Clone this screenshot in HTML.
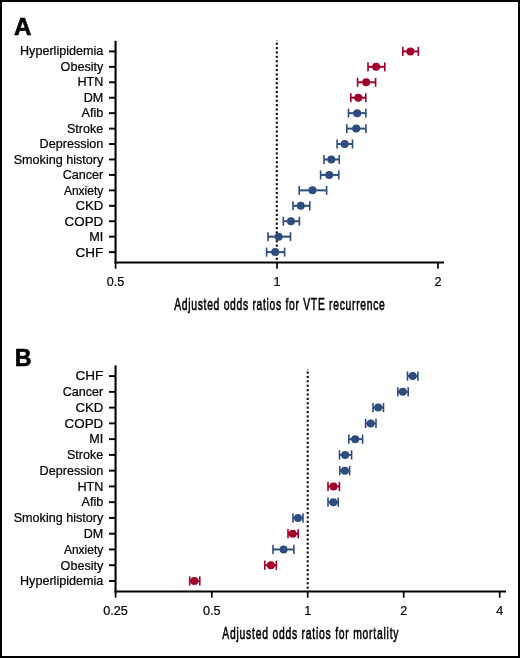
<!DOCTYPE html>
<html><head><meta charset="utf-8"><style>
html,body{margin:0;padding:0;background:#fff;}
body{width:520px;height:658px;overflow:hidden;position:relative;}
.frame{position:absolute;left:0;top:0;width:516px;height:654px;border:2px solid #000;}
svg{position:absolute;left:0;top:0;will-change:transform;}
.lbl{font-family:"Liberation Sans",sans-serif;font-size:12.6px;fill:#000;stroke:#000;stroke-width:0.22px;}
.ttl{font-family:"Liberation Sans",sans-serif;font-size:16.7px;fill:#000;stroke:#000;stroke-width:0.6px;}
.pl{font-family:"Liberation Sans",sans-serif;font-weight:bold;font-size:23.2px;fill:#000;stroke:#000;stroke-width:0.6px;}
</style></head><body>
<div class="frame"></div>
<svg width="520" height="658" viewBox="0 0 520 658">
<text x="14.0" y="34.7" class="pl" transform="translate(14 0) scale(1.04 1) translate(-14 0)">A</text>
<text x="14.8" y="366.1" class="pl">B</text>
<rect x="114.5" y="40.8" width="2.1" height="222.70" fill="#000"/>
<rect x="114.5" y="261.50" width="329.50" height="2" fill="#000"/>
<rect x="114.75" y="262.50" width="1.7" height="6.3" rx="0.6" fill="#000"/>
<rect x="276.15" y="262.50" width="1.7" height="6.3" rx="0.6" fill="#000"/>
<rect x="437.15" y="262.50" width="1.7" height="6.3" rx="0.6" fill="#000"/>
<rect x="275.80" y="40.30" width="2" height="1" fill="#000" opacity="0.45"/>
<rect x="275.80" y="42.65" width="2" height="2.1" fill="#000"/>
<rect x="275.80" y="47.04" width="2" height="2.1" fill="#000"/>
<rect x="275.80" y="51.43" width="2" height="2.1" fill="#000"/>
<rect x="275.80" y="55.82" width="2" height="2.1" fill="#000"/>
<rect x="275.80" y="60.21" width="2" height="2.1" fill="#000"/>
<rect x="275.80" y="64.60" width="2" height="2.1" fill="#000"/>
<rect x="275.80" y="68.99" width="2" height="2.1" fill="#000"/>
<rect x="275.80" y="73.38" width="2" height="2.1" fill="#000"/>
<rect x="275.80" y="77.77" width="2" height="2.1" fill="#000"/>
<rect x="275.80" y="82.16" width="2" height="2.1" fill="#000"/>
<rect x="275.80" y="86.55" width="2" height="2.1" fill="#000"/>
<rect x="275.80" y="90.94" width="2" height="2.1" fill="#000"/>
<rect x="275.80" y="95.33" width="2" height="2.1" fill="#000"/>
<rect x="275.80" y="99.72" width="2" height="2.1" fill="#000"/>
<rect x="275.80" y="104.11" width="2" height="2.1" fill="#000"/>
<rect x="275.80" y="108.50" width="2" height="2.1" fill="#000"/>
<rect x="275.80" y="112.89" width="2" height="2.1" fill="#000"/>
<rect x="275.80" y="117.28" width="2" height="2.1" fill="#000"/>
<rect x="275.80" y="121.67" width="2" height="2.1" fill="#000"/>
<rect x="275.80" y="126.06" width="2" height="2.1" fill="#000"/>
<rect x="275.80" y="130.45" width="2" height="2.1" fill="#000"/>
<rect x="275.80" y="134.84" width="2" height="2.1" fill="#000"/>
<rect x="275.80" y="139.23" width="2" height="2.1" fill="#000"/>
<rect x="275.80" y="143.62" width="2" height="2.1" fill="#000"/>
<rect x="275.80" y="148.01" width="2" height="2.1" fill="#000"/>
<rect x="275.80" y="152.40" width="2" height="2.1" fill="#000"/>
<rect x="275.80" y="156.79" width="2" height="2.1" fill="#000"/>
<rect x="275.80" y="161.18" width="2" height="2.1" fill="#000"/>
<rect x="275.80" y="165.57" width="2" height="2.1" fill="#000"/>
<rect x="275.80" y="169.96" width="2" height="2.1" fill="#000"/>
<rect x="275.80" y="174.35" width="2" height="2.1" fill="#000"/>
<rect x="275.80" y="178.74" width="2" height="2.1" fill="#000"/>
<rect x="275.80" y="183.13" width="2" height="2.1" fill="#000"/>
<rect x="275.80" y="187.52" width="2" height="2.1" fill="#000"/>
<rect x="275.80" y="191.91" width="2" height="2.1" fill="#000"/>
<rect x="275.80" y="196.30" width="2" height="2.1" fill="#000"/>
<rect x="275.80" y="200.69" width="2" height="2.1" fill="#000"/>
<rect x="275.80" y="205.08" width="2" height="2.1" fill="#000"/>
<rect x="275.80" y="209.47" width="2" height="2.1" fill="#000"/>
<rect x="275.80" y="213.86" width="2" height="2.1" fill="#000"/>
<rect x="275.80" y="218.25" width="2" height="2.1" fill="#000"/>
<rect x="275.80" y="222.64" width="2" height="2.1" fill="#000"/>
<rect x="275.80" y="227.03" width="2" height="2.1" fill="#000"/>
<rect x="275.80" y="231.42" width="2" height="2.1" fill="#000"/>
<rect x="275.80" y="235.81" width="2" height="2.1" fill="#000"/>
<rect x="275.80" y="240.20" width="2" height="2.1" fill="#000"/>
<rect x="275.80" y="244.59" width="2" height="2.1" fill="#000"/>
<rect x="275.80" y="248.98" width="2" height="2.1" fill="#000"/>
<rect x="275.80" y="253.37" width="2" height="2.1" fill="#000"/>
<rect x="275.80" y="257.76" width="2" height="2.1" fill="#000"/>
<rect x="109" y="50.45" width="6" height="1.9" fill="#000"/>
<text x="103.3" y="55.15" text-anchor="end" class="lbl">Hyperlipidemia</text>
<rect x="109" y="65.89" width="6" height="1.9" fill="#000"/>
<text x="103.3" y="70.67" text-anchor="end" class="lbl">Obesity</text>
<rect x="109" y="81.33" width="6" height="1.9" fill="#000"/>
<text x="103.3" y="86.19" text-anchor="end" class="lbl">HTN</text>
<rect x="109" y="96.77" width="6" height="1.9" fill="#000"/>
<text x="103.3" y="101.71" text-anchor="end" class="lbl">DM</text>
<rect x="109" y="112.21" width="6" height="1.9" fill="#000"/>
<text x="103.3" y="117.23" text-anchor="end" class="lbl">Afib</text>
<rect x="109" y="127.65" width="6" height="1.9" fill="#000"/>
<text x="103.3" y="132.75" text-anchor="end" class="lbl">Stroke</text>
<rect x="109" y="143.09" width="6" height="1.9" fill="#000"/>
<text x="103.3" y="148.27" text-anchor="end" class="lbl">Depression</text>
<rect x="109" y="158.53" width="6" height="1.9" fill="#000"/>
<text x="103.3" y="163.79" text-anchor="end" class="lbl">Smoking history</text>
<rect x="109" y="173.97" width="6" height="1.9" fill="#000"/>
<text x="103.3" y="179.31" text-anchor="end" class="lbl">Cancer</text>
<rect x="109" y="189.41" width="6" height="1.9" fill="#000"/>
<text x="103.3" y="194.83" text-anchor="end" class="lbl" transform="translate(103.3 0) scale(0.955 1) translate(-103.3 0)">Anxiety</text>
<rect x="109" y="204.85" width="6" height="1.9" fill="#000"/>
<text x="103.3" y="210.35" text-anchor="end" class="lbl" transform="translate(103.3 0) scale(1.05 1) translate(-103.3 0)">CKD</text>
<rect x="109" y="220.29" width="6" height="1.9" fill="#000"/>
<text x="103.3" y="225.87" text-anchor="end" class="lbl" transform="translate(103.3 0) scale(1.063 1) translate(-103.3 0)">COPD</text>
<rect x="109" y="235.73" width="6" height="1.9" fill="#000"/>
<text x="103.3" y="241.39" text-anchor="end" class="lbl">MI</text>
<rect x="109" y="251.17" width="6" height="1.9" fill="#000"/>
<text x="103.3" y="256.91" text-anchor="end" class="lbl" transform="translate(103.3 0) scale(1.075 1) translate(-103.3 0)">CHF</text>
<g fill="#A1002B"><rect x="402.80" y="50.40" width="15.50" height="2"/><rect x="402.00" y="46.90" width="1.6" height="9.00"/><rect x="417.50" y="46.90" width="1.6" height="9.00"/><circle cx="410.4" cy="51.40" r="4.0"/></g>
<g fill="#A1002B"><rect x="368.00" y="65.84" width="16.80" height="2"/><rect x="367.20" y="62.34" width="1.6" height="9.00"/><rect x="384.00" y="62.34" width="1.6" height="9.00"/><circle cx="376.1" cy="66.84" r="4.0"/></g>
<g fill="#A1002B"><rect x="357.60" y="81.28" width="18.00" height="2"/><rect x="356.80" y="77.78" width="1.6" height="9.00"/><rect x="374.80" y="77.78" width="1.6" height="9.00"/><circle cx="366.2" cy="82.28" r="4.0"/></g>
<g fill="#A1002B"><rect x="350.80" y="96.72" width="15.00" height="2"/><rect x="350.00" y="93.22" width="1.6" height="9.00"/><rect x="365.00" y="93.22" width="1.6" height="9.00"/><circle cx="358.3" cy="97.72" r="4.0"/></g>
<g fill="#2E4C7D"><rect x="348.50" y="112.16" width="17.40" height="2"/><rect x="347.70" y="108.66" width="1.6" height="9.00"/><rect x="365.10" y="108.66" width="1.6" height="9.00"/><circle cx="357.2" cy="113.16" r="4.0"/></g>
<g fill="#2E4C7D"><rect x="346.80" y="127.60" width="19.10" height="2"/><rect x="346.00" y="124.10" width="1.6" height="9.00"/><rect x="365.10" y="124.10" width="1.6" height="9.00"/><circle cx="356.2" cy="128.60" r="4.0"/></g>
<g fill="#2E4C7D"><rect x="337.10" y="143.04" width="15.40" height="2"/><rect x="336.30" y="139.54" width="1.6" height="9.00"/><rect x="351.70" y="139.54" width="1.6" height="9.00"/><circle cx="344.7" cy="144.04" r="4.0"/></g>
<g fill="#2E4C7D"><rect x="324.00" y="158.48" width="15.20" height="2"/><rect x="323.20" y="154.98" width="1.6" height="9.00"/><rect x="338.40" y="154.98" width="1.6" height="9.00"/><circle cx="331.3" cy="159.48" r="4.0"/></g>
<g fill="#2E4C7D"><rect x="320.60" y="173.92" width="18.20" height="2"/><rect x="319.80" y="170.42" width="1.6" height="9.00"/><rect x="338.00" y="170.42" width="1.6" height="9.00"/><circle cx="329.2" cy="174.92" r="4.0"/></g>
<g fill="#2E4C7D"><rect x="299.20" y="189.36" width="27.40" height="2"/><rect x="298.40" y="185.86" width="1.6" height="9.00"/><rect x="325.80" y="185.86" width="1.6" height="9.00"/><circle cx="312.5" cy="190.36" r="4.0"/></g>
<g fill="#2E4C7D"><rect x="293.00" y="204.80" width="16.80" height="2"/><rect x="292.20" y="201.30" width="1.6" height="9.00"/><rect x="309.00" y="201.30" width="1.6" height="9.00"/><circle cx="300.8" cy="205.80" r="4.0"/></g>
<g fill="#2E4C7D"><rect x="283.30" y="220.24" width="16.10" height="2"/><rect x="282.50" y="216.74" width="1.6" height="9.00"/><rect x="298.60" y="216.74" width="1.6" height="9.00"/><circle cx="291.0" cy="221.24" r="4.0"/></g>
<g fill="#2E4C7D"><rect x="268.00" y="235.68" width="22.50" height="2"/><rect x="267.20" y="232.18" width="1.6" height="9.00"/><rect x="289.70" y="232.18" width="1.6" height="9.00"/><circle cx="278.6" cy="236.68" r="4.0"/></g>
<g fill="#2E4C7D"><rect x="266.60" y="251.12" width="18.00" height="2"/><rect x="265.80" y="247.62" width="1.6" height="9.00"/><rect x="283.80" y="247.62" width="1.6" height="9.00"/><circle cx="275.2" cy="252.12" r="4.0"/></g>
<text x="115.60" y="286.10" text-anchor="middle" class="lbl">0.5</text>
<text x="277.00" y="286.10" text-anchor="middle" class="lbl">1</text>
<text x="438.00" y="286.10" text-anchor="middle" class="lbl">2</text>
<text transform="scale(0.62,1)" x="280.97" y="310.3" textLength="339.7" lengthAdjust="spacing" class="ttl">Adjusted odds ratios for VTE recurrence</text>
<rect x="114.5" y="365.4" width="2.1" height="227.10" fill="#000"/>
<rect x="114.5" y="590.50" width="391.50" height="2" fill="#000"/>
<rect x="114.75" y="591.50" width="1.7" height="6.3" rx="0.6" fill="#000"/>
<rect x="210.95" y="591.50" width="1.7" height="6.3" rx="0.6" fill="#000"/>
<rect x="306.85" y="591.50" width="1.7" height="6.3" rx="0.6" fill="#000"/>
<rect x="402.85" y="591.50" width="1.7" height="6.3" rx="0.6" fill="#000"/>
<rect x="498.85" y="591.50" width="1.7" height="6.3" rx="0.6" fill="#000"/>
<rect x="306.70" y="369.15" width="2" height="1" fill="#000" opacity="0.45"/>
<rect x="306.70" y="371.50" width="2" height="2.1" fill="#000"/>
<rect x="306.70" y="375.89" width="2" height="2.1" fill="#000"/>
<rect x="306.70" y="380.28" width="2" height="2.1" fill="#000"/>
<rect x="306.70" y="384.67" width="2" height="2.1" fill="#000"/>
<rect x="306.70" y="389.06" width="2" height="2.1" fill="#000"/>
<rect x="306.70" y="393.45" width="2" height="2.1" fill="#000"/>
<rect x="306.70" y="397.84" width="2" height="2.1" fill="#000"/>
<rect x="306.70" y="402.23" width="2" height="2.1" fill="#000"/>
<rect x="306.70" y="406.62" width="2" height="2.1" fill="#000"/>
<rect x="306.70" y="411.01" width="2" height="2.1" fill="#000"/>
<rect x="306.70" y="415.40" width="2" height="2.1" fill="#000"/>
<rect x="306.70" y="419.79" width="2" height="2.1" fill="#000"/>
<rect x="306.70" y="424.18" width="2" height="2.1" fill="#000"/>
<rect x="306.70" y="428.57" width="2" height="2.1" fill="#000"/>
<rect x="306.70" y="432.96" width="2" height="2.1" fill="#000"/>
<rect x="306.70" y="437.35" width="2" height="2.1" fill="#000"/>
<rect x="306.70" y="441.74" width="2" height="2.1" fill="#000"/>
<rect x="306.70" y="446.13" width="2" height="2.1" fill="#000"/>
<rect x="306.70" y="450.52" width="2" height="2.1" fill="#000"/>
<rect x="306.70" y="454.91" width="2" height="2.1" fill="#000"/>
<rect x="306.70" y="459.30" width="2" height="2.1" fill="#000"/>
<rect x="306.70" y="463.69" width="2" height="2.1" fill="#000"/>
<rect x="306.70" y="468.08" width="2" height="2.1" fill="#000"/>
<rect x="306.70" y="472.47" width="2" height="2.1" fill="#000"/>
<rect x="306.70" y="476.86" width="2" height="2.1" fill="#000"/>
<rect x="306.70" y="481.25" width="2" height="2.1" fill="#000"/>
<rect x="306.70" y="485.64" width="2" height="2.1" fill="#000"/>
<rect x="306.70" y="490.03" width="2" height="2.1" fill="#000"/>
<rect x="306.70" y="494.42" width="2" height="2.1" fill="#000"/>
<rect x="306.70" y="498.81" width="2" height="2.1" fill="#000"/>
<rect x="306.70" y="503.20" width="2" height="2.1" fill="#000"/>
<rect x="306.70" y="507.59" width="2" height="2.1" fill="#000"/>
<rect x="306.70" y="511.98" width="2" height="2.1" fill="#000"/>
<rect x="306.70" y="516.37" width="2" height="2.1" fill="#000"/>
<rect x="306.70" y="520.76" width="2" height="2.1" fill="#000"/>
<rect x="306.70" y="525.15" width="2" height="2.1" fill="#000"/>
<rect x="306.70" y="529.54" width="2" height="2.1" fill="#000"/>
<rect x="306.70" y="533.93" width="2" height="2.1" fill="#000"/>
<rect x="306.70" y="538.32" width="2" height="2.1" fill="#000"/>
<rect x="306.70" y="542.71" width="2" height="2.1" fill="#000"/>
<rect x="306.70" y="547.10" width="2" height="2.1" fill="#000"/>
<rect x="306.70" y="551.49" width="2" height="2.1" fill="#000"/>
<rect x="306.70" y="555.88" width="2" height="2.1" fill="#000"/>
<rect x="306.70" y="560.27" width="2" height="2.1" fill="#000"/>
<rect x="306.70" y="564.66" width="2" height="2.1" fill="#000"/>
<rect x="306.70" y="569.05" width="2" height="2.1" fill="#000"/>
<rect x="306.70" y="573.44" width="2" height="2.1" fill="#000"/>
<rect x="306.70" y="577.83" width="2" height="2.1" fill="#000"/>
<rect x="306.70" y="582.22" width="2" height="2.1" fill="#000"/>
<rect x="306.70" y="586.61" width="2" height="2.1" fill="#000"/>
<rect x="109" y="375.15" width="6" height="1.9" fill="#000"/>
<text x="103.3" y="380.40" text-anchor="end" class="lbl" transform="translate(103.3 0) scale(1.075 1) translate(-103.3 0)">CHF</text>
<rect x="109" y="390.91" width="6" height="1.9" fill="#000"/>
<text x="103.3" y="396.16" text-anchor="end" class="lbl">Cancer</text>
<rect x="109" y="406.67" width="6" height="1.9" fill="#000"/>
<text x="103.3" y="411.92" text-anchor="end" class="lbl" transform="translate(103.3 0) scale(1.05 1) translate(-103.3 0)">CKD</text>
<rect x="109" y="422.43" width="6" height="1.9" fill="#000"/>
<text x="103.3" y="427.68" text-anchor="end" class="lbl" transform="translate(103.3 0) scale(1.063 1) translate(-103.3 0)">COPD</text>
<rect x="109" y="438.19" width="6" height="1.9" fill="#000"/>
<text x="103.3" y="443.44" text-anchor="end" class="lbl">MI</text>
<rect x="109" y="453.95" width="6" height="1.9" fill="#000"/>
<text x="103.3" y="459.20" text-anchor="end" class="lbl">Stroke</text>
<rect x="109" y="469.71" width="6" height="1.9" fill="#000"/>
<text x="103.3" y="474.96" text-anchor="end" class="lbl">Depression</text>
<rect x="109" y="485.47" width="6" height="1.9" fill="#000"/>
<text x="103.3" y="490.72" text-anchor="end" class="lbl">HTN</text>
<rect x="109" y="501.23" width="6" height="1.9" fill="#000"/>
<text x="103.3" y="506.48" text-anchor="end" class="lbl">Afib</text>
<rect x="109" y="516.99" width="6" height="1.9" fill="#000"/>
<text x="103.3" y="522.24" text-anchor="end" class="lbl">Smoking history</text>
<rect x="109" y="532.75" width="6" height="1.9" fill="#000"/>
<text x="103.3" y="538.00" text-anchor="end" class="lbl">DM</text>
<rect x="109" y="548.51" width="6" height="1.9" fill="#000"/>
<text x="103.3" y="553.76" text-anchor="end" class="lbl" transform="translate(103.3 0) scale(0.955 1) translate(-103.3 0)">Anxiety</text>
<rect x="109" y="564.27" width="6" height="1.9" fill="#000"/>
<text x="103.3" y="569.52" text-anchor="end" class="lbl">Obesity</text>
<rect x="109" y="580.03" width="6" height="1.9" fill="#000"/>
<text x="103.3" y="585.28" text-anchor="end" class="lbl">Hyperlipidemia</text>
<g fill="#2E4C7D"><rect x="407.50" y="375.10" width="10.40" height="2"/><rect x="406.70" y="371.50" width="1.6" height="9.20"/><rect x="417.10" y="371.50" width="1.6" height="9.20"/><circle cx="412.7" cy="376.10" r="4.0"/></g>
<g fill="#2E4C7D"><rect x="397.80" y="390.86" width="10.40" height="2"/><rect x="397.00" y="387.26" width="1.6" height="9.20"/><rect x="407.40" y="387.26" width="1.6" height="9.20"/><circle cx="402.8" cy="391.86" r="4.0"/></g>
<g fill="#2E4C7D"><rect x="373.00" y="406.62" width="10.50" height="2"/><rect x="372.20" y="403.02" width="1.6" height="9.20"/><rect x="382.70" y="403.02" width="1.6" height="9.20"/><circle cx="378.2" cy="407.62" r="4.0"/></g>
<g fill="#2E4C7D"><rect x="365.60" y="422.38" width="10.40" height="2"/><rect x="364.80" y="418.78" width="1.6" height="9.20"/><rect x="375.20" y="418.78" width="1.6" height="9.20"/><circle cx="370.7" cy="423.38" r="4.0"/></g>
<g fill="#2E4C7D"><rect x="348.80" y="438.14" width="13.80" height="2"/><rect x="348.00" y="434.54" width="1.6" height="9.20"/><rect x="361.80" y="434.54" width="1.6" height="9.20"/><circle cx="355.2" cy="439.14" r="4.0"/></g>
<g fill="#2E4C7D"><rect x="339.50" y="453.90" width="12.10" height="2"/><rect x="338.70" y="450.30" width="1.6" height="9.20"/><rect x="350.80" y="450.30" width="1.6" height="9.20"/><circle cx="345.2" cy="454.90" r="4.0"/></g>
<g fill="#2E4C7D"><rect x="339.80" y="469.66" width="9.80" height="2"/><rect x="339.00" y="466.06" width="1.6" height="9.20"/><rect x="348.80" y="466.06" width="1.6" height="9.20"/><circle cx="344.8" cy="470.66" r="4.0"/></g>
<g fill="#A1002B"><rect x="328.00" y="485.42" width="11.40" height="2"/><rect x="327.20" y="481.82" width="1.6" height="9.20"/><rect x="338.60" y="481.82" width="1.6" height="9.20"/><circle cx="333.5" cy="486.42" r="4.0"/></g>
<g fill="#2E4C7D"><rect x="328.00" y="501.18" width="10.20" height="2"/><rect x="327.20" y="497.58" width="1.6" height="9.20"/><rect x="337.40" y="497.58" width="1.6" height="9.20"/><circle cx="333.3" cy="502.18" r="4.0"/></g>
<g fill="#2E4C7D"><rect x="293.00" y="516.94" width="10.00" height="2"/><rect x="292.20" y="513.34" width="1.6" height="9.20"/><rect x="302.20" y="513.34" width="1.6" height="9.20"/><circle cx="298.0" cy="517.94" r="4.0"/></g>
<g fill="#A1002B"><rect x="288.00" y="532.70" width="10.20" height="2"/><rect x="287.20" y="529.10" width="1.6" height="9.20"/><rect x="297.40" y="529.10" width="1.6" height="9.20"/><circle cx="292.7" cy="533.70" r="4.0"/></g>
<g fill="#2E4C7D"><rect x="273.00" y="548.46" width="20.90" height="2"/><rect x="272.20" y="544.86" width="1.6" height="9.20"/><rect x="293.10" y="544.86" width="1.6" height="9.20"/><circle cx="283.6" cy="549.46" r="4.0"/></g>
<g fill="#A1002B"><rect x="264.80" y="564.22" width="11.50" height="2"/><rect x="264.00" y="560.62" width="1.6" height="9.20"/><rect x="275.50" y="560.62" width="1.6" height="9.20"/><circle cx="270.9" cy="565.22" r="4.0"/></g>
<g fill="#A1002B"><rect x="189.70" y="579.98" width="10.10" height="2"/><rect x="188.90" y="576.38" width="1.6" height="9.20"/><rect x="199.00" y="576.38" width="1.6" height="9.20"/><circle cx="194.4" cy="580.98" r="4.0"/></g>
<text x="115.60" y="615.10" text-anchor="middle" class="lbl">0.25</text>
<text x="211.80" y="615.10" text-anchor="middle" class="lbl">0.5</text>
<text x="307.70" y="615.10" text-anchor="middle" class="lbl">1</text>
<text x="403.70" y="615.10" text-anchor="middle" class="lbl">2</text>
<text x="499.70" y="615.10" text-anchor="middle" class="lbl">4</text>
<text transform="scale(0.62,1)" x="358.55" y="638.8" textLength="284.2" lengthAdjust="spacing" class="ttl">Adjusted odds ratios for mortality</text>
</svg>
</body></html>
